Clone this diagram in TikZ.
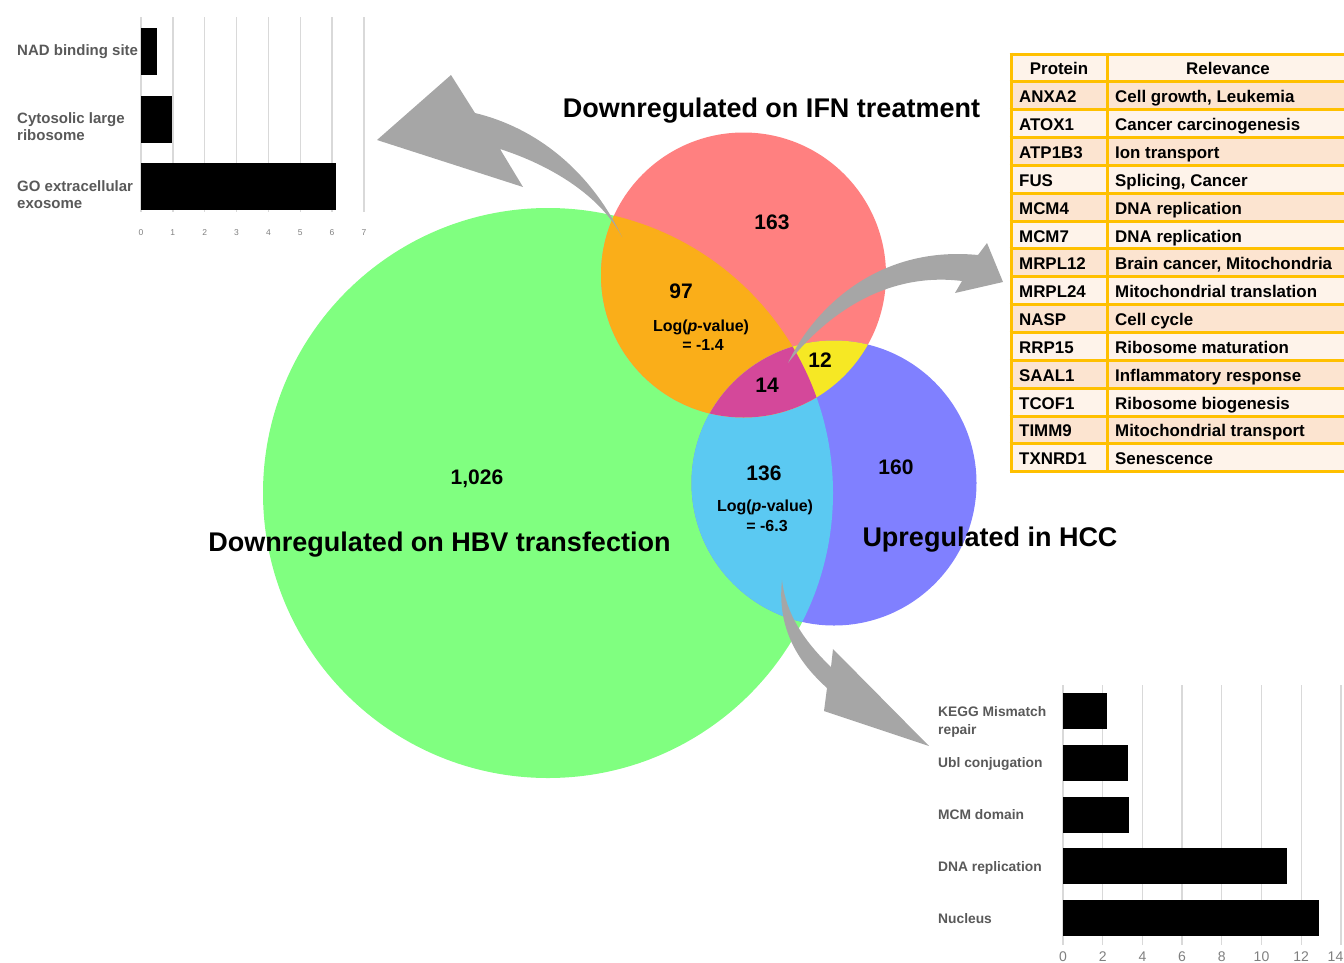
\documentclass[tikz,border=0pt]{standalone}
\usepackage{fontspec}
\setmainfont{Liberation Sans}
\definecolor{cG}{HTML}{80FF80}
\definecolor{cR}{HTML}{FF8080}
\definecolor{cB}{HTML}{8080FF}
\definecolor{cGR}{HTML}{FAAE19}
\definecolor{cRB}{HTML}{F6E824}
\definecolor{cGB}{HTML}{5BC9F2}
\definecolor{cAll}{HTML}{D4489A}
\definecolor{arrowgray}{HTML}{A6A6A6}
\definecolor{tabborder}{HTML}{FFC000}
\definecolor{tabpeach}{HTML}{FCE4D0}
\definecolor{tablight}{HTML}{FEF3EA}
\definecolor{labgray}{HTML}{595959}
\definecolor{gridgray}{HTML}{D9D9D9}
\definecolor{tickgray}{HTML}{7F7F7F}
\begin{document}
\begin{tikzpicture}[x=1pt,y=-1pt,
  title/.style={font=\fontsize{27}{32}\selectfont\bfseries, anchor=base, inner sep=0pt},
  num/.style={font=\fontsize{21}{25}\selectfont\bfseries, anchor=base, inner sep=0pt},
  pval/.style={font=\fontsize{16}{19}\selectfont\bfseries, anchor=base, inner sep=0pt},
  labA/.style={font=\fontsize{15}{18}\selectfont\bfseries, text=labgray, anchor=base west, inner sep=0pt},
  labB/.style={font=\fontsize{13.8}{17}\selectfont\bfseries, text=labgray, anchor=base west, inner sep=0pt},
  tickA/.style={font=\fontsize{8.5}{10}\selectfont, text=tickgray, anchor=base, inner sep=0pt},
  tickB/.style={font=\fontsize{14}{16}\selectfont, text=tickgray, anchor=base, inner sep=0pt},
  grid/.style={draw=gridgray, line width=1.3pt},
  bar/.style={fill=black},
  cell/.style={font=\fontsize{16.9}{19}\selectfont\bfseries, anchor=base west, inner sep=0pt},
  cellhead/.style={font=\fontsize{16.9}{19}\selectfont\bfseries, anchor=base, inner sep=0pt},
  bigarrow/.style={fill=arrowgray}
]
\useasboundingbox (0,0) rectangle (1344,962);

% ---------- Venn diagram ----------
\coordinate (G) at (548,493);
\coordinate (R) at (743.5,275);
\coordinate (B) at (834,483);
\fill[cG] (G) circle[radius=285pt];
\fill[cR] (R) circle[radius=142.5pt];
\fill[cB] (B) circle[radius=142.5pt];
\begin{scope}
  \clip (G) circle[radius=285pt];
  \fill[cGR] (R) circle[radius=142.5pt];
  \fill[cGB] (B) circle[radius=142.5pt];
\end{scope}
\begin{scope}
  \clip (R) circle[radius=142.5pt];
  \fill[cRB] (B) circle[radius=142.5pt];
  \clip (G) circle[radius=285pt];
  \fill[cAll] (B) circle[radius=142.5pt];
\end{scope}

\node[title] (tIFN) at (771.5,117) {Downregulated on IFN treatment};
\node[title] (tHBV) at (439.5,551) {Downregulated on HBV transfection};
\node[title] (tHCC) at (990,546) {Upregulated in HCC};

\node[num] (n163) at (772,229) {163};
\node[num] (n97) at (681,298) {97};
\node[pval] (p97a) at (701,331) {Log(\textit{p}-value)};
\node[pval] (p97b) at (703,350) {= -1.4};
\node[num] (n14) at (767,392) {14};
\node[num] (n12) at (820,367) {12};
\node[num] (n136) at (764,480) {136};
\node[pval] (p136a) at (765,511) {Log(\textit{p}-value)};
\node[pval] (p136b) at (767,531) {= -6.3};
\node[num] (n160) at (896,474) {160};
\node[num] (n1026) at (477,484) {1,026};

% ---------- curved arrows ----------
\fill[bigarrow] (622,237) .. controls (595,180) and (545,130) .. (475,113)
  -- (451,75) -- (377,140) -- (523,187) -- (500,149)
  .. controls (550,165) and (600,195) .. (622,237) -- cycle;
\fill[bigarrow] (788,363) .. controls (812,312) and (875,245) .. (978,255)
  -- (987,243) -- (1003,282) -- (955,293) -- (962,281)
  .. controls (890,272) and (830,310) .. (788,363) -- cycle;
\fill[bigarrow] (782,580) .. controls (786,615) and (805,642) .. (831,667)
  -- (833,649) -- (929,746) -- (824,711) -- (827,688)
  .. controls (805,668) and (776,635) .. (782,580) -- cycle;

% ---------- bar chart top-left ----------
\foreach \k in {0,...,7} {
  \draw[grid] ({141+31.85*\k},17) -- ({141+31.85*\k},212);
  \node[tickA] (tA\k) at ({141+31.85*\k},235) {\k};
}
\fill[bar] (141,28) rectangle (157,75);
\fill[bar] (141,96) rectangle (172,143);
\fill[bar] (141,163) rectangle (336,210);
\node[labA] (lA1) at (17,55) {NAD binding site};
\node[labA] (lA2) at (17,123) {Cytosolic large};
\node[labA] (lA2b) at (17,140) {ribosome};
\node[labA] (lA3) at (17,191) {GO extracellular};
\node[labA] (lA3b) at (17,208) {exosome};

% ---------- bar chart bottom-right ----------
\foreach \k [evaluate=\k as \v using int(2*\k)] in {0,...,6} {
  \draw[grid] ({1063+39.7*\k},685) -- ({1063+39.7*\k},945);
  \node[tickB] (tB\k) at ({1063+39.7*\k},961) {\v};
}
\draw[grid] ({1063+39.7*7},685) -- ({1063+39.7*7},945);
\node[tickB, anchor=base east] (tB7) at (1343.5,961) {14};
\fill[bar] (1063,693) rectangle (1107,729);
\fill[bar] (1063,745) rectangle (1128,781);
\fill[bar] (1063,797) rectangle (1129,833);
\fill[bar] (1063,848) rectangle (1287,884);
\fill[bar] (1063,900) rectangle (1319,936);
\node[labB] (lB1) at (938,716) {KEGG Mismatch};
\node[labB] (lB1b) at (938,734) {repair};
\node[labB] (lB2) at (938,767) {Ubl conjugation};
\node[labB] (lB3) at (938,819) {MCM domain};
\node[labB] (lB4) at (938,871) {DNA replication};
\node[labB] (lB5) at (938,923) {Nucleus};

% ---------- table ----------
\def\rh{27.85}
\fill[tablight] (1011,54) rectangle (1349,{54+\rh});
\foreach \p/\r [count=\i] in {ANXA2/{Cell growth, Leukemia},ATOX1/Cancer carcinogenesis,ATP1B3/Ion transport,FUS/{Splicing, Cancer},MCM4/DNA replication,MCM7/DNA replication,MRPL12/{Brain cancer, Mitochondria},MRPL24/Mitochondrial translation,NASP/Cell cycle,RRP15/Ribosome maturation,SAAL1/Inflammatory response,TCOF1/Ribosome biogenesis,TIMM9/Mitochondrial transport,TXNRD1/Senescence} {
  \pgfmathsetmacro{\yt}{54+\rh*\i}
  \pgfmathparse{mod(\i,2)==1 ? "tabpeach" : "tablight"}
  \edef\rowcol{\pgfmathresult}
  \fill[\rowcol] (1011,\yt) rectangle (1349,{\yt+\rh});
  \node[cell] (pr\i) at (1019,{\yt+\rh/2+7}) {\p};
  \node[cell] (re\i) at (1115,{\yt+\rh/2+7}) {\r};
}
\node[cellhead] (hP) at (1059,{54+\rh/2+7}) {Protein};
\node[cellhead] (hR) at (1228,{54+\rh/2+7}) {Relevance};
\foreach \i in {0,...,15} {
  \draw[tabborder, line width=3pt] (1009.5,{54+\rh*\i}) -- (1350,{54+\rh*\i});
}
\draw[tabborder, line width=3pt] (1011,52.5) -- (1011,{54+\rh*15+1.5});
\draw[tabborder, line width=3pt] (1107,52.5) -- (1107,{54+\rh*15+1.5});
\draw[tabborder, line width=3pt] (1349,52.5) -- (1349,{54+\rh*15+1.5});
\end{tikzpicture}
\end{document}
